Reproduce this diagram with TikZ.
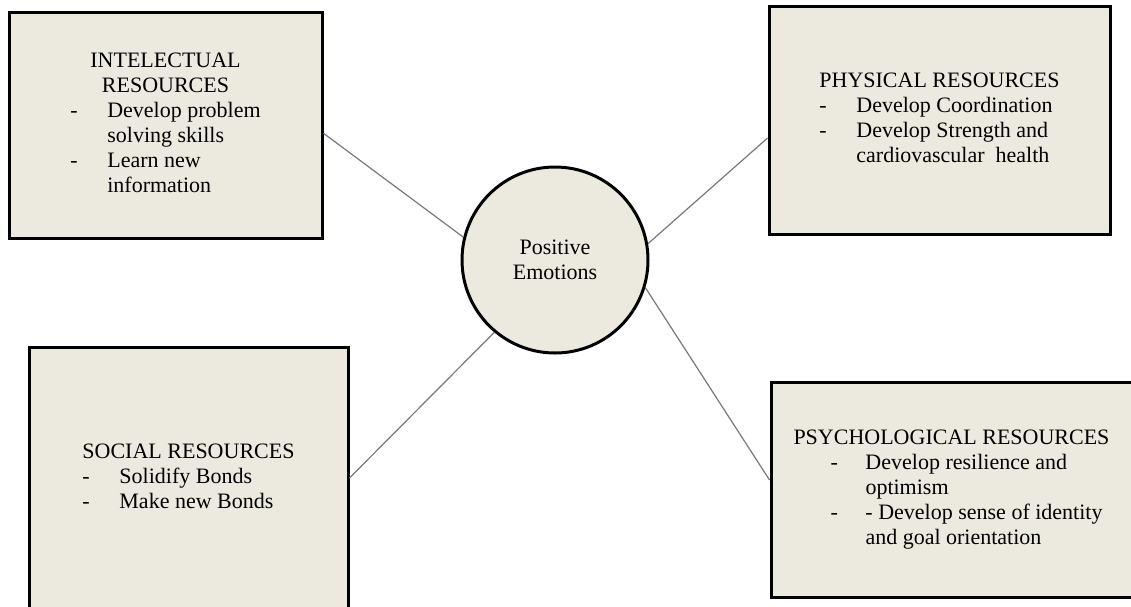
\documentclass[tikz,border=0pt]{standalone}
\usepackage{fontspec}
\setmainfont{Liberation Serif}
\usetikzlibrary{positioning}
\definecolor{boxfill}{RGB}{236,233,222}
\definecolor{linkgray}{RGB}{120,120,120}

\tikzset{
  resbox/.style={draw=black, line width=1.5pt, fill=boxfill, inner sep=0pt,
    font=\fontsize{11}{12.5}\selectfont},
  emocircle/.style={circle, draw=black, line width=1.5pt, fill=boxfill,
    minimum size=93pt, inner sep=0pt, align=center,
    font=\fontsize{11}{12.5}\selectfont},
  link/.style={draw=linkgray, line width=0.6pt}
}

\begin{document}
\begin{tikzpicture}[x=0.5pt, y=-0.5pt]
  \useasboundingbox (0,0) rectangle (1131,606);

  % Centre
  \node[emocircle] (emo) at (555,260) {Positive\\Emotions};

  % Intellectual resources
  \node[resbox, minimum width=156.5pt, minimum height=113pt] (intel) at (165.5,125) {%
    \begin{tabular}{@{}p{18.5pt}@{}l@{}}
      \multicolumn{2}{@{}c@{}}{INTELECTUAL}\\
      \multicolumn{2}{@{}c@{}}{RESOURCES}\\
      - & Develop problem\\
        & solving skills\\
      - & Learn new\\
        & information
    \end{tabular}};

  % Physical resources
  \node[resbox, minimum width=170.5pt, minimum height=114pt] (phys) at (939.5,120) {%
    \begin{tabular}{@{}p{18.5pt}@{}l@{}}
      \multicolumn{2}{@{}c@{}}{PHYSICAL RESOURCES}\\
      - & Develop Coordination\\
      - & Develop Strength and\\
        & cardiovascular\ \ health
    \end{tabular}};

  % Social resources
  \node[resbox, minimum width=159.5pt, minimum height=131pt] (soc) at (188.5,478) {%
    \begin{tabular}{@{}p{18.5pt}@{}l@{}}
      \multicolumn{2}{@{}c@{}}{SOCIAL RESOURCES}\\
      - & Solidify Bonds\\
      - & Make new Bonds
    \end{tabular}};

  % Psychological resources
  \node[resbox, minimum width=180.5pt, minimum height=107.5pt] (psych) at (951.5,489.5) {%
    \begin{tabular}{@{}p{36pt}@{}l@{}}
      \multicolumn{2}{@{}c@{}}{PSYCHOLOGICAL RESOURCES}\\
      \hspace*{18.5pt}- & Develop resilience and\\
        & optimism\\
      \hspace*{18.5pt}- & - Develop sense of identity\\
        & and goal orientation
    \end{tabular}};

  % Links
  \draw[link] (intel.-3.7) -- (emo.166);
  \draw[link] (phys.186.7) -- (emo.10.4);
  \draw[link] (soc.east) -- (emo.230);
  \draw[link] (psych.177) -- (emo.-17);
\end{tikzpicture}
\end{document}
